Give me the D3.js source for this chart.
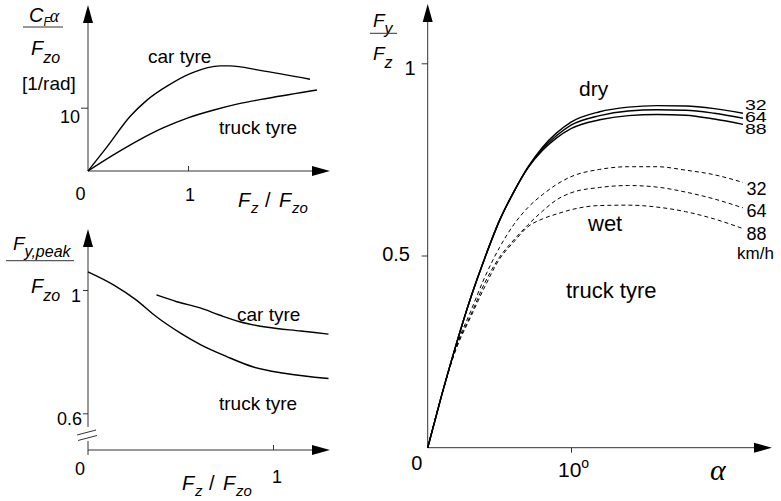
<!DOCTYPE html>
<html>
<head>
<meta charset="utf-8">
<script src="https://cdn.jsdelivr.net/npm/d3@7"></script>
<style>
  body { margin: 0; background: #fff; }
  text { font-family: "Liberation Sans", Arial, sans-serif; fill: #000; }
  .it { font-style: italic; }
</style>
</head>
<body>
<div id="chart"></div>
<script>
// top left: cornering stiffness / Fzo against Fz / Fzo
const stiffCarLoad = [0, 0.19, 0.42, 0.59, 0.79, 1.04, 1.32, 1.42, 1.72, 2.22];
const stiffCar = [0, 3.8, 8.6, 11.2, 13.4, 15.5, 16.6, 16.6, 15.9, 14.5];
const stiffTruckLoad = [0, 0.25, 0.5, 0.75, 1.0, 1.25, 1.5, 1.8, 2.29];
const stiffTruck = [0, 2.5, 4.8, 6.8, 8.4, 9.6, 10.6, 11.5, 12.8];

// bottom left: peak side force / Fzo against Fz / Fzo
const peakCarLoad = [0.37, 0.48, 0.61, 0.71, 0.82, 0.97, 1.15, 1.30];
const peakCar = [0.984, 0.962, 0.941, 0.919, 0.897, 0.879, 0.867, 0.857];
const peakTruckLoad = [0, 0.14, 0.26, 0.37, 0.50, 0.61, 0.75, 0.89, 1.06, 1.30];
const peakTruck = [1.059, 1.016, 0.968, 0.913, 0.860, 0.822, 0.784, 0.751, 0.730, 0.713];

// right: Fy / Fz against slip angle (deg), truck tyre
const slipAngle = [0, 1, 2, 3, 4, 5, 6, 7, 8, 9, 10, 12, 14, 16, 18, 20, 22];
const dry32 = [0, 0.14, 0.27, 0.39, 0.495, 0.59, 0.665, 0.73, 0.781, 0.819, 0.847, 0.874, 0.886, 0.890, 0.889, 0.882, 0.870];
const dry64 = [0, 0.14, 0.27, 0.39, 0.495, 0.59, 0.665, 0.73, 0.777, 0.812, 0.839, 0.864, 0.876, 0.879, 0.878, 0.870, 0.857];
const dry88 = [0, 0.14, 0.27, 0.39, 0.495, 0.59, 0.665, 0.728, 0.773, 0.806, 0.830, 0.853, 0.864, 0.867, 0.865, 0.855, 0.841];
const wet32 = [0, 0.14, 0.265, 0.355, 0.445, 0.52, 0.58, 0.625, 0.658, 0.685, 0.705, 0.724, 0.731, 0.731, 0.722, 0.710, 0.690];
const wet64 = [0, 0.14, 0.262, 0.345, 0.43, 0.495, 0.54, 0.58, 0.615, 0.645, 0.663, 0.677, 0.682, 0.678, 0.665, 0.647, 0.624];
const wet88 = [0, 0.14, 0.258, 0.34, 0.42, 0.49, 0.535, 0.575, 0.595, 0.608, 0.619, 0.630, 0.631, 0.626, 0.614, 0.595, 0.570];
const speedLabels = ['32', '64', '88'];

const width = 781;
const height = 501;

const svg = d3.select('#chart')
  .append('svg')
  .attr('width', width)
  .attr('height', height);

svg.append('rect').attr('width', width).attr('height', height).attr('fill', '#fff');

const axisColor = '#333';

function arrowUp(x, tip) {
  svg.append('path')
    .attr('d', `M${x},${tip}L${x - 5},${tip + 18}L${x + 5},${tip + 18}Z`)
    .attr('fill', '#000');
}

function arrowRight(tip, y) {
  svg.append('path')
    .attr('d', `M${tip},${y}L${tip - 18},${y - 5}L${tip - 18},${y + 5}Z`)
    .attr('fill', '#000');
}

function vline(x, y1, y2) {
  svg.append('line').attr('x1', x).attr('x2', x).attr('y1', y1).attr('y2', y2)
    .attr('stroke', axisColor).attr('stroke-width', 1);
}

function hline(x1, x2, y) {
  svg.append('line').attr('x1', x1).attr('x2', x2).attr('y1', y).attr('y2', y)
    .attr('stroke', axisColor).attr('stroke-width', 1);
}

function label(x, y, str, size, anchor) {
  return svg.append('text')
    .attr('x', x)
    .attr('y', y)
    .attr('font-size', size)
    .attr('text-anchor', anchor || 'start')
    .text(str);
}

// F_z / F_zo written under the x axis
function loadTitle(x, y) {
  const t = svg.append('text').attr('class', 'it').attr('font-size', 20);
  t.append('tspan').attr('x', x).attr('y', y).text('F');
  t.append('tspan').attr('x', x + 13).attr('y', y + 6).attr('font-size', 15).text('z');
  t.append('tspan').attr('x', x + 27).attr('y', y).style('font-style', 'normal').text('/');
  t.append('tspan').attr('x', x + 41).attr('y', y).text('F');
  t.append('tspan').attr('x', x + 54).attr('y', y + 6).attr('font-size', 15).text('zo');
}

function drawCurve(scaleX, scaleY, xs, ys, dashed) {
  const line = d3.line()
    .x(function(d) { return scaleX(d[0]); })
    .y(function(d) { return scaleY(d[1]); })
    .curve(d3.curveMonotoneX);
  svg.append('path')
    .datum(xs.map(function(v, i) { return [v, ys[i]]; }))
    .attr('d', line)
    .attr('fill', 'none')
    .attr('stroke', '#000')
    .attr('stroke-width', dashed ? 1 : 1.4)
    .attr('stroke-dasharray', dashed ? '4,3' : null);
}

function ticks(axis, x, y) {
  const g = svg.append('g').attr('transform', `translate(${x},${y})`).call(axis);
  g.select('.domain').remove();
  g.selectAll('.tick line').attr('stroke', axisColor);
  g.selectAll('.tick text').remove();
}

// ---------- top left ----------
const xTL = d3.scaleLinear().domain([0, 1]).range([88, 188]);
const yTL = d3.scaleLinear().domain([0, 10]).range([171, 107.7]);

vline(88, 20, 171);
hline(88, 315, 171);
arrowUp(88, 5);
arrowRight(330, 171);
ticks(d3.axisLeft(yTL).tickValues([10]).tickSize(7), 88, 0);
ticks(d3.axisBottom(xTL).tickValues([1]).tickSize(-5), 0, 171);

drawCurve(xTL, yTL, stiffCarLoad, stiffCar, false);
drawCurve(xTL, yTL, stiffTruckLoad, stiffTruck, false);

label(80, yTL(10) + 15, '10', 18, 'end');
label(xTL(0) - 7.5, 200, '0', 18, 'middle');
label(xTL(1) + 2, 201, '1', 18, 'middle');
loadTitle(238, 207);

const cfa = svg.append('text').attr('class', 'it').attr('x', 29).attr('y', 22).attr('font-size', 20);
cfa.append('tspan').text('C');
cfa.append('tspan').attr('font-size', 12).attr('dy', 4).text('F');
cfa.append('tspan').attr('dy', -4).attr('dx', -1)
  .style('font-family', '"Liberation Serif", serif').attr('font-size', 18).text('α');
hline(23, 63, 27);
const fzo1 = svg.append('text').attr('class', 'it').attr('x', 31).attr('y', 55).attr('font-size', 20);
fzo1.append('tspan').text('F');
fzo1.append('tspan').attr('font-size', 16).attr('dy', 8).text('zo');
label(22, 90, '[1/rad]', 19);
label(148, 63, 'car tyre', 19);
label(219, 134, 'truck tyre', 19);

// ---------- bottom left ----------
const xBL = d3.scaleLinear().domain([0, 1]).range([88, 273]);
const yBL = d3.scaleLinear().domain([0.6, 1]).range([413.3, 290]);

vline(88, 245, 427);
vline(88, 441, 455);
hline(88, 315, 450);
arrowUp(88, 229);
arrowRight(330, 450);
svg.append('line').attr('x1', 77).attr('y1', 435).attr('x2', 96).attr('y2', 430)
  .attr('stroke', axisColor);
svg.append('line').attr('x1', 78).attr('y1', 440.5).attr('x2', 97).attr('y2', 435.5)
  .attr('stroke', axisColor);
ticks(d3.axisLeft(yBL).tickValues([0.6, 1]).tickSize(5), 88, 0);
ticks(d3.axisBottom(xBL).tickValues([1]).tickSize(-5), 0, 450);

drawCurve(xBL, yBL, peakTruckLoad, peakTruck, false);
drawCurve(xBL, yBL, peakCarLoad, peakCar, false);

label(81, yBL(1) + 12, '1', 18, 'end');
label(82, yBL(0.6) + 12, '0.6', 18, 'end');
label(xBL(0) - 8, 475, '0', 18, 'middle');
label(xBL(1) + 4, 483, '1', 18, 'middle');
loadTitle(182, 490);

const fyp = svg.append('text').attr('class', 'it').attr('x', 13).attr('y', 250).attr('font-size', 19);
fyp.append('tspan').text('F');
fyp.append('tspan').attr('font-size', 16).attr('dy', 7).text('y,peak');
hline(6, 74, 260.7);
const fzo2 = svg.append('text').attr('class', 'it').attr('x', 31).attr('y', 293).attr('font-size', 20);
fzo2.append('tspan').text('F');
fzo2.append('tspan').attr('font-size', 16).attr('dy', 8).text('zo');
label(237, 321, 'car tyre', 19);
label(219, 410, 'truck tyre', 19);

// ---------- right ----------
const xR = d3.scaleLinear().domain([0, 10]).range([427.7, 571]);
const yR = d3.scaleLinear().domain([0, 1]).range([447.7, 63.3]);

vline(427.7, 20, 447.7);
hline(427.7, 755, 447.7);
arrowUp(427.7, 4);
arrowRight(772, 447.7);
ticks(d3.axisLeft(yR).tickValues([0.5, 1]).tickSize(6), 427.7, 0);
ticks(d3.axisBottom(xR).tickValues([10]).tickSize(5), 0, 447.7);

[wet32, wet64, wet88].forEach(function(s) { drawCurve(xR, yR, slipAngle, s, true); });
[dry32, dry64, dry88].forEach(function(s) { drawCurve(xR, yR, slipAngle, s, false); });

label(410, yR(1) + 12, '1', 20, 'middle');
label(410, yR(0.5) + 5, '0.5', 20, 'end');
label(xR(0) - 11, 470, '0', 20, 'middle');
const deg = svg.append('text').attr('x', xR(10) - 13).attr('y', 477).attr('font-size', 21);
deg.append('tspan').text('10');
deg.append('tspan').attr('font-size', 14).attr('dy', -9).text('o');
svg.append('text').attr('x', 710).attr('y', 480)
  .attr('font-size', 30)
  .style('font-family', '"Liberation Serif", serif')
  .style('font-style', 'italic')
  .text('α');

const fy = svg.append('text').attr('class', 'it').attr('x', 373).attr('y', 27).attr('font-size', 19);
fy.append('tspan').text('F');
fy.append('tspan').attr('font-size', 16).attr('dy', 7).text('y');
hline(370, 397, 33.3);
const fz = svg.append('text').attr('class', 'it').attr('x', 373).attr('y', 60).attr('font-size', 19);
fz.append('tspan').text('F');
fz.append('tspan').attr('font-size', 16).attr('dy', 8).text('z');

// dry speed labels are squeezed together
const dryLabelY = [110, 122, 134];
speedLabels.forEach(function(s, i) {
  svg.append('text')
    .attr('transform', `translate(745,${dryLabelY[i]}) scale(1.15,0.85)`)
    .attr('font-size', 17)
    .text(s);
});
const wetLabelY = [195, 217, 240];
speedLabels.forEach(function(s, i) {
  label(746.5, wetLabelY[i], s, 18);
});
label(737, 259, 'km/h', 17);

label(579, 96, 'dry', 21);
label(588, 231, 'wet', 22);
label(566, 298, 'truck tyre', 22);
</script>
</body>
</html>
